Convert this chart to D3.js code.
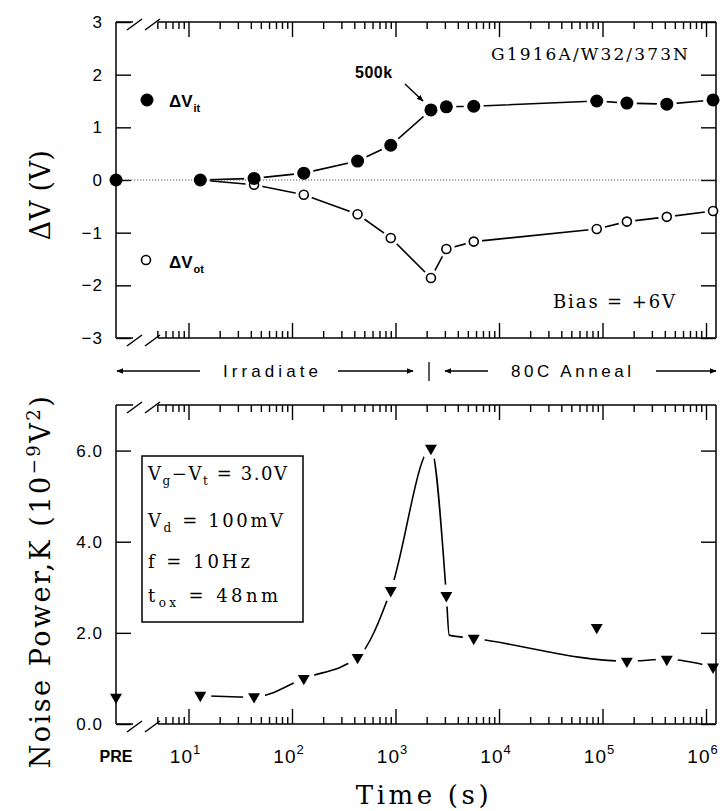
<!DOCTYPE html>
<html><head><meta charset="utf-8">
<script src="https://cdn.jsdelivr.net/npm/d3@7"></script>
<style>body{margin:0;background:#fff} svg{display:block}</style>
</head><body>
<svg id="c" width="726" height="811"></svg>
<script>
// ---------------- data ----------------
const times   = ["PRE", 13, 43, 130, 430, 900, 2200, 3100, 5700, 88000, 172000, 418000, 1170000];
const dVit    = [0, 0, 0.03, 0.13, 0.36, 0.66, 1.33, 1.39, 1.40, 1.50, 1.46, 1.44, 1.52];
const dVot    = [0, 0, -0.09, -0.28, -0.65, -1.10, -1.86, -1.31, -1.17, -0.93, -0.79, -0.70, -0.59];
const noiseK  = [0.59, 0.63, 0.60, 1.00, 1.46, 2.93, 6.05, 2.82, 1.88, 2.12, 1.38, 1.42, 1.25];
// hand-drawn trend curve through the noise data (skips PRE and the 8.8e4 s outlier)
const fitT    = [13, 43, 130, 430, 900, 2200, 3100, 3300, 5700, 172000, 418000, 1170000];
const fitK    = [0.62, 0.59, 1.00, 1.46, 2.93, 6.05, 2.82, 1.95, 1.88, 1.38, 1.42, 1.25];

const xMajor     = [10, 100, 1e3, 1e4, 1e5, 1e6];
const xExponents = ["1", "2", "3", "4", "5", "6"];
const yTopTicks  = [-3, -2, -1, 0, 1, 2, 3];
const yBotTicks  = [0, 2, 4, 6];

// ---------------- layout ----------------
const L = 116, R = 716;
const svg = d3.select("#c");
const xLog = d3.scaleLog().domain([10, 1e6]).range([188.5, 706]);
const X = t => t === "PRE" ? L : xLog(t);
const yTop = d3.scaleLinear().domain([-3, 3]).range([338, 22]);
const yBot = d3.scaleLinear().domain([0, 7]).range([724, 405]);

const xMinor = [];
for (let d = 1; d <= 1e5; d *= 10) for (let k = 2; k <= 9; k++) { const v = k * d; if (v >= 5) xMinor.push(v); }

const SANS = "'Liberation Sans', Arial, sans-serif";
const SERIF = "'DejaVu Serif', serif";

function fit(sel, target) {
  const n = sel.text().length;
  const w = sel.node().getComputedTextLength();
  sel.attr("letter-spacing", ((target - w) / Math.max(n - 1, 1)).toFixed(2));
}
function styleAxis(g) {
  g.select(".domain").remove();
  g.selectAll("line").attr("stroke", "#000").attr("stroke-width", 1.4);
  g.selectAll("text").attr("fill", "#000").attr("font-family", SANS).attr("font-size", 17).attr("letter-spacing", 1);
}

function frame(yS, yTicks, fmt) {
  const [yb, yt] = yS.range();
  const g = svg.append("g").attr("stroke", "#000").attr("stroke-width", 1.5).attr("fill", "none");
  g.append("line").attr("x1", L).attr("x2", L).attr("y1", yt).attr("y2", yb);
  g.append("line").attr("x1", R).attr("x2", R).attr("y1", yt).attr("y2", yb);
  [yt, yb].forEach(y => {
    g.append("line").attr("x1", L).attr("x2", 133).attr("y1", y).attr("y2", y);
    g.append("line").attr("x1", 158).attr("x2", R).attr("y1", y).attr("y2", y);
    [127, 145].forEach(x0 => g.append("line").attr("x1", x0).attr("y1", y + 8).attr("x2", x0 + 15).attr("y2", y - 3));
  });
  [[d3.axisTop, yt], [d3.axisBottom, yb]].forEach(([fn, y]) => {
    svg.append("g").attr("transform", `translate(0,${y})`)
      .call(fn(xLog).tickValues(xMajor).tickFormat("").tickSizeInner(-15).tickSizeOuter(0)).call(styleAxis);
    svg.append("g").attr("transform", `translate(0,${y})`)
      .call(fn(xLog).tickValues(xMinor).tickFormat("").tickSizeInner(-7).tickSizeOuter(0)).call(styleAxis);
  });
  svg.append("g").attr("transform", `translate(${L},0)`)
    .call(d3.axisLeft(yS).tickValues(yTicks).tickFormat(fmt).tickSizeInner(-15).tickSizeOuter(0).tickPadding(13))
    .call(styleAxis);
  svg.append("g").attr("transform", `translate(${R},0)`)
    .call(d3.axisRight(yS).tickValues(yTicks).tickFormat("").tickSizeInner(-15).tickSizeOuter(0))
    .call(styleAxis);
}

// ---------------- top panel ----------------
frame(yTop, yTopTicks, d3.format("d"));
svg.append("line").attr("x1", L).attr("x2", R).attr("y1", yTop(0)).attr("y2", yTop(0))
  .attr("stroke", "#555").attr("stroke-width", 1).attr("stroke-dasharray", "1.2,1.8");

const idx = d3.range(1, times.length);
const defs = svg.append("defs");
const mt = defs.append("mask").attr("id", "mt").attr("maskUnits", "userSpaceOnUse")
  .attr("x", 0).attr("y", 0).attr("width", 726).attr("height", 811);
mt.append("rect").attr("width", 726).attr("height", 811).attr("fill", "#fff");
times.forEach((t, i) => {
  mt.append("circle").attr("cx", X(t)).attr("cy", yTop(dVit[i])).attr("r", 10).attr("fill", "#000");
  mt.append("circle").attr("cx", X(t)).attr("cy", yTop(dVot[i])).attr("r", 8.5).attr("fill", "#000");
});
const lt = svg.append("g").attr("mask", "url(#mt)").attr("fill", "none").attr("stroke", "#000").attr("stroke-width", 1.6);
[dVit, dVot].forEach(s => {
  lt.append("path").attr("d", d3.line().x(i => X(times[i])).y(i => yTop(s[i]))(idx));
});
svg.append("g").selectAll("circle").data(times).join("circle")
  .attr("cx", d => X(d)).attr("cy", (d, i) => yTop(dVot[i])).attr("r", 4.5)
  .attr("fill", "#fff").attr("stroke", "#000").attr("stroke-width", 1.6);
svg.append("g").selectAll("circle").data(times).join("circle")
  .attr("cx", d => X(d)).attr("cy", (d, i) => yTop(dVit[i])).attr("r", 6.5).attr("fill", "#000");

// legend (top)
svg.append("circle").attr("cx", 147).attr("cy", 100).attr("r", 6.5).attr("fill", "#000");
const l1 = svg.append("text").attr("x", 169).attr("y", 107).attr("font-family", SANS).attr("font-weight", "bold").attr("font-size", 17);
l1.append("tspan").text("ΔV");
l1.append("tspan").attr("font-size", 11).attr("dy", 5).attr("dx", 1).text("it");
svg.append("circle").attr("cx", 146).attr("cy", 260).attr("r", 4.5).attr("fill", "#fff").attr("stroke", "#000").attr("stroke-width", 1.6);
const l2 = svg.append("text").attr("x", 169).attr("y", 268).attr("font-family", SANS).attr("font-weight", "bold").attr("font-size", 17);
l2.append("tspan").text("ΔV");
l2.append("tspan").attr("font-size", 11).attr("dy", 5).attr("dx", 1).text("ot");

const tg = svg.append("text").attr("x", 491).attr("y", 60).attr("font-family", SERIF).attr("font-size", 17).text("G1916A/W32/373N");
fit(tg, 197);
const tb = svg.append("text").attr("x", 553).attr("y", 308).attr("font-family", SERIF).attr("font-size", 18).text("Bias = +6V");
fit(tb, 122);
svg.append("text").attr("x", 355).attr("y", 78).attr("font-family", SANS).attr("font-weight", "bold").attr("font-size", 16).attr("letter-spacing", 0.5).text("500k");

defs.append("marker").attr("id", "ah").attr("viewBox", "0 0 10 10").attr("refX", 9).attr("refY", 5)
  .attr("markerWidth", 7).attr("markerHeight", 7).attr("markerUnits", "userSpaceOnUse").attr("orient", "auto")
  .append("path").attr("d", "M0,1 L10,5 L0,9 Z").attr("fill", "#000");
svg.append("line").attr("x1", 405).attr("y1", 84).attr("x2", 423).attr("y2", 101)
  .attr("stroke", "#000").attr("stroke-width", 1.4).attr("marker-end", "url(#ah)");

// separator row
const sep = svg.append("g").attr("stroke", "#000").attr("stroke-width", 1.3);
[[200, 117], [338, 413], [488, 445], [656, 716]].forEach(([a, b]) =>
  sep.append("line").attr("x1", a).attr("x2", b).attr("y1", 371).attr("y2", 371).attr("marker-end", "url(#ah)"));
sep.append("line").attr("x1", 429).attr("x2", 429).attr("y1", 362).attr("y2", 381);
const ti = svg.append("text").attr("x", 223).attr("y", 377).attr("font-family", SANS).attr("font-size", 17).text("Irradiate");
fit(ti, 95);
const ta = svg.append("text").attr("x", 511).attr("y", 377).attr("font-family", SANS).attr("font-size", 17).text("80C Anneal");
fit(ta, 120);

// ---------------- bottom panel ----------------
frame(yBot, yBotTicks, d3.format(".1f"));
const mb = defs.append("mask").attr("id", "mb").attr("maskUnits", "userSpaceOnUse")
  .attr("x", 0).attr("y", 0).attr("width", 726).attr("height", 811);
mb.append("rect").attr("width", 726).attr("height", 811).attr("fill", "#fff");
times.forEach((t, i) => mb.append("circle").attr("cx", X(t)).attr("cy", yBot(noiseK[i])).attr("r", 11).attr("fill", "#000"));
svg.append("path").attr("mask", "url(#mb)").attr("fill", "none").attr("stroke", "#000").attr("stroke-width", 1.6)
  .attr("d", d3.line().curve(d3.curveMonotoneX).x(i => xLog(fitT[i])).y(i => yBot(fitK[i]))(d3.range(fitT.length)));
const tri = d3.symbol(d3.symbolTriangle).size(62)();
svg.append("g").selectAll("path").data(times).join("path")
  .attr("d", tri).attr("fill", "#000")
  .attr("transform", (d, i) => `translate(${X(d)},${yBot(noiseK[i])}) rotate(180)`);

// legend box (bottom)
svg.append("rect").attr("x", 142).attr("y", 456).attr("width", 161).attr("height", 166)
  .attr("fill", "none").attr("stroke", "#000").attr("stroke-width", 1.5);
function boxLine(y, parts, target) {
  const t = svg.append("text").attr("x", 148).attr("y", y).attr("font-family", SERIF).attr("font-size", 18);
  let prevSub = false;
  parts.forEach(([s, sub]) => {
    if (sub) { t.append("tspan").attr("font-size", 12).attr("dy", 5).text(s); prevSub = true; }
    else { t.append("tspan").attr("dy", prevSub ? -5 : 0).text(s); prevSub = false; }
  });
  fit(t, target);
}
boxLine(480, [["V"], ["g", 1], ["−V"], ["t", 1], [" = 3.0V"]], 139);
boxLine(527, [["V"], ["d", 1], [" = 100mV"]], 135);
boxLine(568, [["f = 10Hz"]], 102);
boxLine(602, [["t"], ["ox", 1], [" = 48nm"]], 130);

// x tick labels
svg.append("text").attr("x", L).attr("y", 762).attr("text-anchor", "middle").attr("font-family", SANS)
  .attr("font-weight", "bold").attr("font-size", 16).text("PRE");
xMajor.forEach((v, i) => {
  const t = svg.append("text").attr("x", xLog(v) - 3).attr("y", 763).attr("text-anchor", "middle")
    .attr("font-family", SANS).attr("font-size", 19).attr("letter-spacing", 1);
  t.append("tspan").text("10");
  t.append("tspan").attr("font-size", 13).attr("dy", -9).text(xExponents[i]);
});

// axis titles
const ty = svg.append("text").attr("transform", "translate(50,195) rotate(-90)").attr("text-anchor", "middle")
  .attr("font-family", SERIF).attr("font-size", 27).text("ΔV (V)");
fit(ty, 90);
const tn = svg.append("text").attr("transform", "translate(50,581) rotate(-90)").attr("text-anchor", "middle")
  .attr("font-family", SERIF).attr("font-size", 27);
tn.append("tspan").text("Noise Power,K (10");
tn.append("tspan").attr("font-size", 18).attr("dy", -10).text("−9");
tn.append("tspan").attr("dy", 10).text("V");
tn.append("tspan").attr("font-size", 18).attr("dy", -10).text("2");
tn.append("tspan").attr("dy", 10).text(")");
fit(tn, 372);
const tt = svg.append("text").attr("x", 424).attr("y", 804).attr("text-anchor", "middle")
  .attr("font-family", SERIF).attr("font-size", 26).text("Time (s)");
fit(tt, 133);
</script>
</body></html>
